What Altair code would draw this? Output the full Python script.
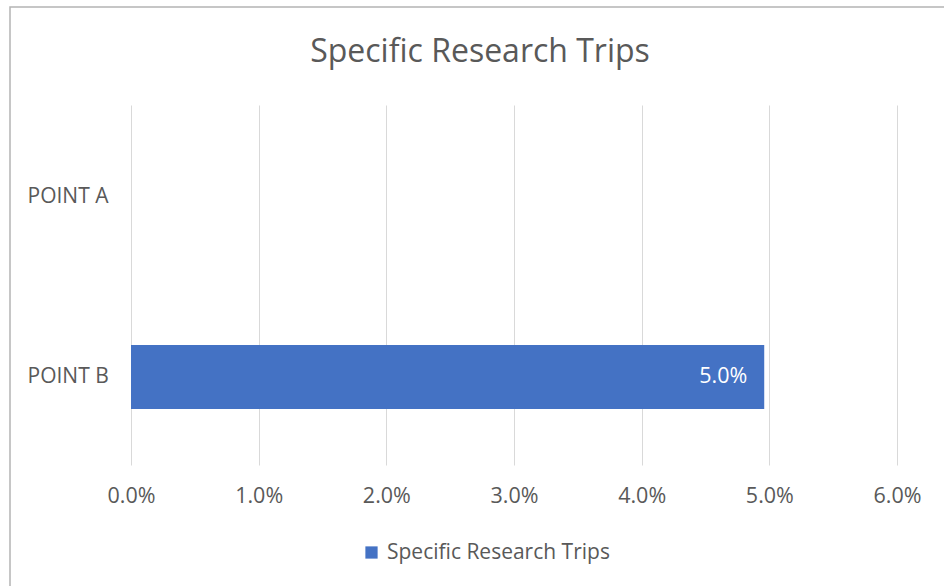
import altair as alt
import pandas as pd

categories = ["POINT A", "POINT B"]
values = [None, 0.0496]
series = ["Specific Research Trips", "Specific Research Trips"]

df = pd.DataFrame({"cat": categories, "val": values, "series": series})

FONT = "Open Sans"
GRAY = "#595959"

base = alt.Chart(df)

x_enc = alt.X("val:Q", scale=alt.Scale(domain=[0, 0.06], nice=False),
              axis=alt.Axis(format=".1%", values=[0, 0.01, 0.02, 0.03, 0.04, 0.05, 0.06],
                            title=None, domain=False, ticks=False, labelPadding=20,
                            labelFlush=False,
                            labelFontSize=21.5, labelColor=GRAY, labelFont=FONT,
                            grid=True, gridColor="#d9d9d9", gridWidth=1))
y_enc = alt.Y("cat:N", sort=categories,
              scale=alt.Scale(paddingInner=0.644, paddingOuter=0.322, align=0.517),
              axis=alt.Axis(title=None, domain=False, ticks=False, grid=False,
                            labelAlign="left", labelPadding=104, labelFontSize=21,
                            labelColor=GRAY, labelFont=FONT))

bars = base.mark_bar(color="#4472c4").encode(
    x=x_enc, y=y_enc,
    color=alt.Color("series:N", scale=alt.Scale(range=["#4472c4"]),
                    legend=alt.Legend(title=None, orient="none", legendX=230, legendY=437,
                                      symbolType="square", symbolSize=150,
                                      labelFontSize=21, labelColor=GRAY, labelFont=FONT,
                                      labelOffset=5))
)

labels = base.transform_filter("isValid(datum.val)").mark_text(
    align="right", dx=-17, color="white", fontSize=21.5, font=FONT
).encode(x="val:Q", y=alt.Y("cat:N", sort=categories), text=alt.Text("val:Q", format=".1%"))

border = alt.Chart(pd.DataFrame({"a": [0]})).mark_rect(
    fill=None, stroke="#b4b4b4", strokeWidth=1.5, clip=False
).encode(x=alt.value(-121), x2=alt.value(830), y=alt.value(-98), y2=alt.value(500))

chart = alt.layer(border, bars, labels).properties(
    width=766, height=360,
    autosize=alt.AutoSizeParams(type="none"),
    padding={"left": 131, "top": 105, "right": 47, "bottom": 121},
    title=alt.TitleParams("Specific Research Trips", fontSize=32, font=FONT,
                          color=GRAY, fontWeight="normal", anchor="middle",
                          baseline="alphabetic", dx=-34, offset=-88),
).configure_view(stroke=None).configure_legend(labelLimit=400)

chart.save("out.html", embed_options={"renderer": "svg", "actions": False})
